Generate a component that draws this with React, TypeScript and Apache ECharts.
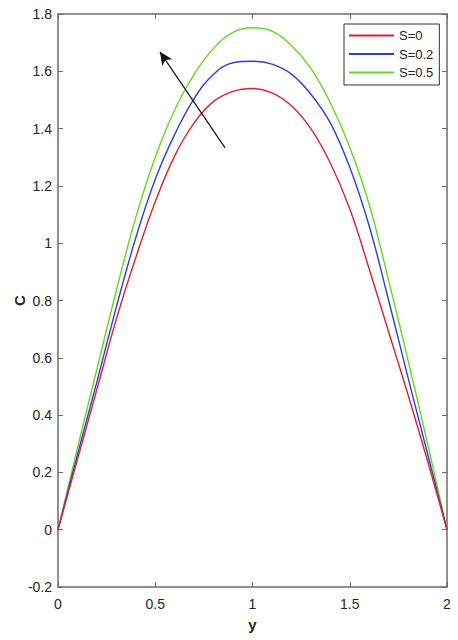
import React, { useEffect, useRef } from "react";
import * as echarts from "echarts";

const xValues = [0, 0.1, 0.2, 0.3, 0.4, 0.5, 0.6, 0.7, 0.8, 0.9, 1.0, 1.1, 1.2, 1.3, 1.4, 1.5, 1.6, 1.7, 1.8, 1.9, 2.0];
const seriesNames = ["S=0", "S=0.2", "S=0.5"];
const cS0 = [0, 0.245, 0.49, 0.735, 0.95, 1.145, 1.305, 1.42, 1.495, 1.53, 1.54, 1.525, 1.48, 1.40, 1.28, 1.12, 0.91, 0.69, 0.47, 0.24, 0];
const cS02 = [0, 0.262, 0.516, 0.777, 1.019, 1.223, 1.38, 1.505, 1.59, 1.63, 1.635, 1.625, 1.59, 1.52, 1.42, 1.265, 1.06, 0.80, 0.53, 0.265, 0];
const cS05 = [0, 0.285, 0.56, 0.835, 1.09, 1.30, 1.466, 1.59, 1.68, 1.736, 1.752, 1.74, 1.69, 1.61, 1.49, 1.335, 1.135, 0.87, 0.59, 0.30, 0];
const colors = ["#e0202e", "#2e3ed6", "#5fdc1f"];
const arrowFrom = [0.859, 1.333];
const arrowTo = [0.524, 1.668];
const xTicks = { min: 0, max: 2, interval: 0.5 };
const yTicks = { min: -0.2, max: 1.8, interval: 0.2 };

export default function App() {
  const ref = useRef<HTMLDivElement>(null);
  useEffect(() => {
    document.body.style.margin = "0";
    const chart = echarts.init(ref.current!, null, { renderer: "svg" });
    const axisColor = "#6b6b6b";
    const labelColor = "#262626";
    const font = "'Liberation Sans', Arial, sans-serif";
    const fmt = (v: number) => String(+Number(v).toFixed(2));
    const allSeries = [cS0, cS02, cS05];
    chart.setOption({
      animation: false,
      backgroundColor: "#fff",
      grid: { left: 58, right: 11, top: 14, bottom: 53, outerBoundsMode: "none", containLabel: false },
      legend: {
        data: seriesNames,
        orient: "vertical",
        left: 344,
        top: 24,
        icon: "rect",
        itemWidth: 45,
        itemHeight: 2,
        itemGap: 5.5,
        padding: [5, 6, 6, 5],
        borderColor: "#333",
        borderWidth: 1,
        backgroundColor: "#fff",
        textStyle: { fontSize: 13, color: labelColor, fontFamily: font },
      },
      xAxis: [
        {
          type: "value",
          ...xTicks,
          name: "y",
          nameLocation: "middle",
          nameGap: 30,
          nameMoveOverlap: false,
          nameTextStyle: { fontSize: 15, fontWeight: "bold", color: labelColor, fontFamily: font },
          axisLine: { onZero: false, lineStyle: { color: axisColor, width: 1.5 } },
          axisTick: { inside: true, length: 5, lineStyle: { color: axisColor } },
          axisLabel: { fontSize: 14, color: labelColor, fontFamily: font, margin: 10, formatter: fmt },
          splitLine: { show: false },
        },
        {
          type: "value",
          ...xTicks,
          position: "top",
          axisLine: { onZero: false, lineStyle: { color: axisColor, width: 1.5 } },
          axisTick: { inside: true, length: 5, lineStyle: { color: axisColor } },
          axisLabel: { show: false },
          splitLine: { show: false },
        },
      ],
      yAxis: [
        {
          type: "value",
          ...yTicks,
          name: "C",
          nameLocation: "middle",
          nameGap: 31,
          nameMoveOverlap: false,
          nameTextStyle: { fontSize: 15, fontWeight: "bold", color: labelColor, fontFamily: font },
          axisLine: { show: true, onZero: false, lineStyle: { color: axisColor, width: 1.5 } },
          axisTick: { show: true, inside: true, length: 5, lineStyle: { color: axisColor } },
          axisLabel: { fontSize: 14, color: labelColor, fontFamily: font, margin: 6, formatter: fmt },
          splitLine: { show: false },
        },
        {
          type: "value",
          ...yTicks,
          position: "right",
          axisLine: { show: true, onZero: false, lineStyle: { color: axisColor, width: 1.5 } },
          axisTick: { show: true, inside: true, length: 5, lineStyle: { color: axisColor } },
          axisLabel: { show: false },
          splitLine: { show: false },
        },
      ],
      series: [
        ...allSeries.map((vals, i) => ({
          name: seriesNames[i],
          type: "line",
          xAxisIndex: 0,
          yAxisIndex: 0,
          data: xValues.map((x, j) => [x, vals[j]]),
          smooth: 0.4,
          showSymbol: false,
          symbol: "none",
          color: colors[i],
          lineStyle: { color: colors[i], width: 1.4 },
          z: 3 - i,
        })),
        {
          name: "arrow",
          type: "line",
          data: [],
          silent: true,
          markLine: {
            silent: true,
            symbol: ["none", "arrow"],
            symbolSize: [9, 13],
            label: { show: false },
            lineStyle: { color: "#111", width: 1.2, type: "solid" },
            data: [[{ coord: arrowFrom }, { coord: arrowTo }]],
          },
        },
      ],
    });
    return () => chart.dispose();
  }, []);
  return <div ref={ref} style={{ width: 458, height: 640 }} />;
}
